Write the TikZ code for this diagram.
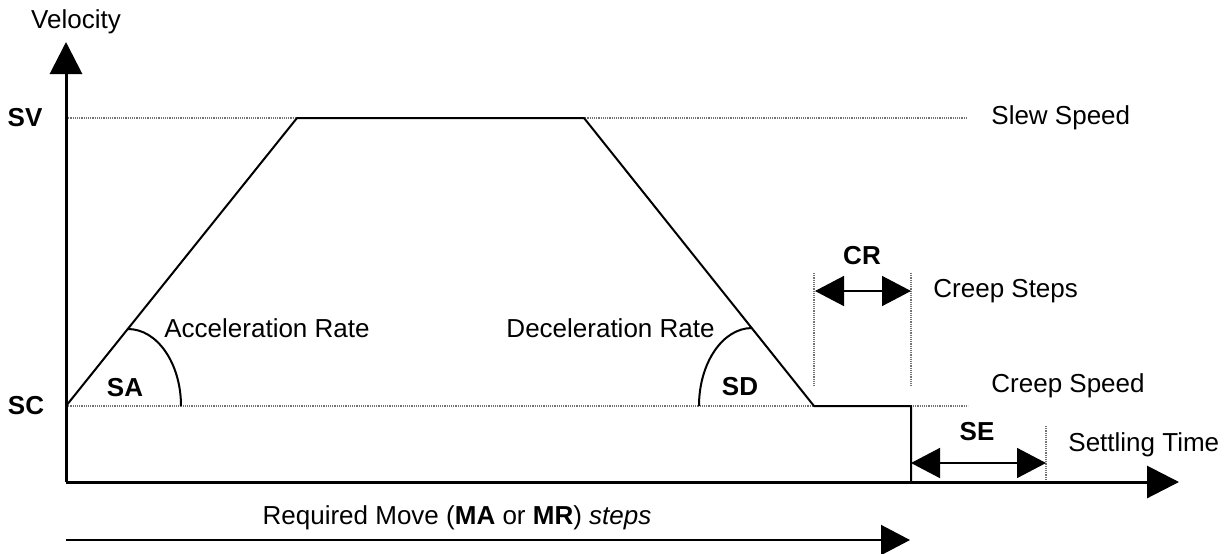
\documentclass[tikz,border=0pt]{standalone}
\usepackage{fontspec}
\setmainfont{Liberation Sans}
\usetikzlibrary{arrows.meta}
\tikzset{
  axisline/.style={line width=1.5pt, -{Triangle[length=16pt,width=16pt]}},
  profile/.style={line width=1pt, line join=miter},
  guide/.style={black!55, line width=0.6pt, dash pattern=on 0.6pt off 0.5pt},
  span/.style={line width=0.8pt, {Triangle[length=14.5pt,width=15pt]}-{Triangle[length=14.5pt,width=15pt]}},
  lbl/.style={inner sep=0pt, font=\fontsize{13pt}{15pt}\selectfont},
  blbl/.style={inner sep=0pt, font=\fontsize{13pt}{15pt}\selectfont\bfseries}
}

\begin{document}
\begin{tikzpicture}[x=0.5pt, y=-0.5pt]
\useasboundingbox (0,0) rectangle (1231,553);
\coordinate (O) at (66,482);
\coordinate (ytop) at (66,42);
\coordinate (xend) at (1179,482);
\coordinate (sc) at (66,406);
\coordinate (rise) at (297,118);
\coordinate (fall) at (584,118);
\coordinate (creep) at (814,406);
\coordinate (stop) at (911,406);
\coordinate (stopbase) at (911,482);
\draw[guide] (66,118) coordinate (svl) -- (967,118) coordinate (svr);
\draw[guide] (sc) -- (968,406) coordinate (scr);
\draw[guide] (814,273) coordinate (crl) -- (814,386);
\draw[guide] (911,273) coordinate (crr) -- (911,386);
\draw[guide] (1046,426) coordinate (setl) -- (1046,482) coordinate (setb);
\draw[profile] (sc) -- (rise) -- (fall) -- (creep) -- (stop) -- (stopbase);
\draw[line width=1pt] (128,329) .. controls (157.3,329) and (181,363.5) .. (181,406);
\draw[line width=1pt] (752,328) .. controls (722.7,328) and (699,363) .. (699,406);
\draw[axisline] (O) -- (ytop);
\draw[axisline] (O) -- (xend);
\coordinate (cra) at (815,291);
\coordinate (crb) at (911,291);
\draw[span] (cra) -- (crb);
\coordinate (sea) at (911,463);
\coordinate (seb) at (1046,463);
\draw[span] (sea) -- (seb);
\coordinate (mvstart) at (66,540);
\coordinate (mvend) at (910,540);
\draw[line width=0.8pt, -{Triangle[length=14.5pt,width=15pt]}] (mvstart) -- (mvend);
\node[lbl] (velocity) at (76,22) {Velocity};
\node[blbl] (sv) at (25,118) {SV};
\node[blbl] (scl) at (26,406) {SC};
\node[blbl] (sa) at (125,388) {SA};
\node[blbl] (sd) at (740,387) {SD};
\node[blbl] (cr) at (862,256) {CR};
\node[blbl] (se) at (977,432) {SE};
\node[lbl, anchor=west] (acc) at (164,328) {Acceleration Rate};
\node[lbl, anchor=east] (dec) at (715,328) {Deceleration Rate};
\node[lbl, anchor=west] (slew) at (991,118) {Slew Speed};
\node[lbl, anchor=west] (steps) at (933,291) {Creep Steps};
\node[lbl, anchor=west] (cspeed) at (991,386) {Creep Speed};
\node[lbl, anchor=west] (settle) at (1068,445) {Settling Time};
\node[lbl] (move) at (457,518) {Required Move (\textbf{MA} or \textbf{MR}) \textit{steps}};
\end{tikzpicture}
\end{document}
